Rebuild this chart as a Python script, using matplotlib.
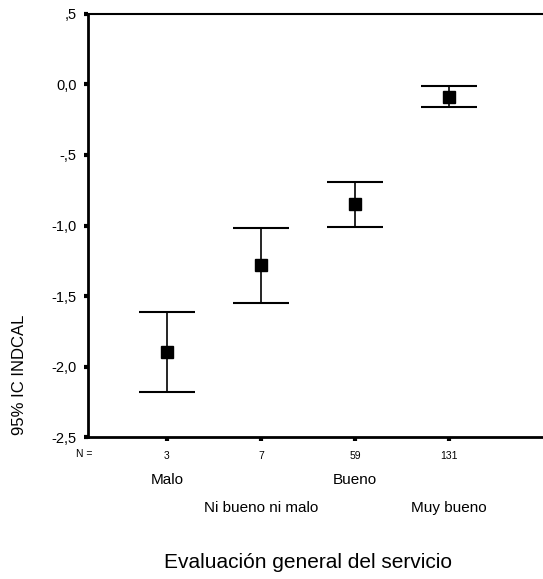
import numpy as np
import matplotlib.pyplot as plt

plt.rcParams['font.family'] = ['Liberation Sans', 'DejaVu Sans']

# Data
categorias = ["Malo", "Ni bueno ni malo", "Bueno", "Muy bueno"]
n_casos = [3, 7, 59, 131]
medias = [-1.90, -1.28, -0.85, -0.09]
ic_sup = [-1.61, -1.02, -0.69, -0.01]
ic_inf = [-2.18, -1.55, -1.01, -0.16]
y_ticks = [0.5, 0.0, -0.5, -1.0, -1.5, -2.0, -2.5]
y_tick_labels = [",5", "0,0", "-,5", "-1,0", "-1,5", "-2,0", "-2,5"]

x = np.arange(1, len(categorias) + 1)
medias = np.array(medias)
err = [medias - np.array(ic_inf), np.array(ic_sup) - medias]

fig = plt.figure(figsize=(5.43, 5.79), dpi=100)
ax = fig.add_axes([0.162, 0.245, 0.838, 0.731])

ax.errorbar(x, medias, yerr=err, fmt='s', color='black', ecolor='black',
            markersize=8, elinewidth=1.2, capsize=20, capthick=1.5)

ax.set_xlim(0.16, 5.0)
ax.set_ylim(-2.5, 0.5)
ax.set_yticks(y_ticks)
ax.set_yticklabels(y_tick_labels, fontsize=10.5)
ax.set_xticks(x)
ax.set_xticklabels([str(n) for n in n_casos], fontsize=7.5)

ax.spines['right'].set_visible(False)
ax.spines['left'].set_linewidth(2)
ax.spines['bottom'].set_linewidth(2)
ax.spines['top'].set_linewidth(1.5)
ax.tick_params(axis='both', length=3, width=3, direction='out')
ax.tick_params(axis='y', pad=5)
ax.tick_params(axis='x', pad=7)

# "N =" label and category names below the counts
ax.text(-0.009, -0.04, "N =", transform=ax.transAxes, fontsize=7.5,
        ha='center', va='center')
for i, (xi, cat) in enumerate(zip(x, categorias)):
    yy = -0.102 if i % 2 == 0 else -0.168
    ax.text(xi, yy, cat, transform=ax.get_xaxis_transform(), fontsize=11,
            ha='center', va='center')

fig.text(0.567, 0.029, "Evaluación general del servicio", fontsize=15,
         ha='center', va='center')
fig.text(0.035, 0.352, "95% IC INDCAL", fontsize=12, rotation=90,
         ha='center', va='center')

fig.savefig("out.png", dpi=100)
